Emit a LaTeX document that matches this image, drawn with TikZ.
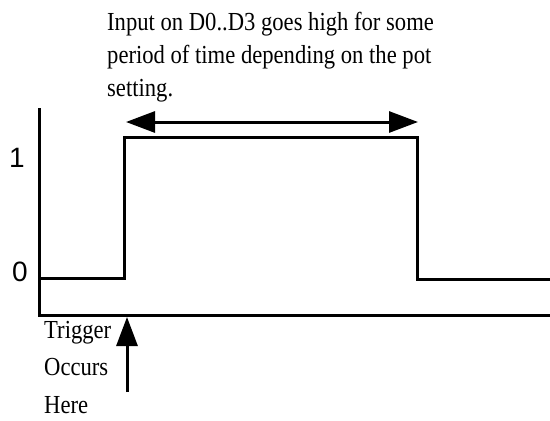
\documentclass[tikz,border=0pt]{standalone}
\usepackage{fontspec}
\setmainfont{Liberation Serif}
\newfontfamily\labfont{Liberation Serif}[FakeStretch=0.87]
\newfontfamily\digfont{Liberation Sans}
\usetikzlibrary{arrows.meta}
\begin{document}
\begin{tikzpicture}[x=1pt,y=-1pt,
  txt/.style={anchor=base west,inner sep=0pt,font=\labfont\fontsize{26}{30}\selectfont},
  dig/.style={anchor=center,inner sep=0pt,font=\digfont\fontsize{28}{30}\selectfont},
  wire/.style={line width=3pt,line join=miter},
  bigtip/.style={-{Triangle[length=29pt,width=21pt]}}]
\useasboundingbox (0,0) rectangle (550,421);
% axes
\coordinate (ytop) at (39,108);
\coordinate (org) at (39,315);
\coordinate (xend) at (550,315);
\draw[wire] (ytop) -- (org) -- (xend);
% signal
\coordinate (s0) at (39,278);
\coordinate (s1) at (124,278);
\coordinate (s2) at (124,137);
\coordinate (s3) at (417,137);
\coordinate (s4) at (417,279);
\coordinate (s5) at (550,279);
\draw[wire] (s0) -- (s1) -- (s2) -- (s3) -- (s4) -- (s5);
% level labels
\node[dig] (one) at (17,158) {1};
\node[dig] (zero) at (20,272) {0};
% period arrow
\coordinate (pl) at (126,122);
\coordinate (pr) at (418,122);
\draw[wire,{Triangle[length=29pt,width=21pt]}-{Triangle[length=29pt,width=21pt]}] (pl) -- (pr);
% description
\node[txt] (d1) at (107,30) {Input on D0..D3 goes high for some};
\node[txt] (d2) at (107,63) {period of time depending on the pot};
\node[txt] (d3) at (107,96) {setting.};
% trigger
\coordinate (tb) at (127,392);
\coordinate (tt) at (127,317);
\draw[wire,bigtip] (tb) -- (tt);
\node[txt] (t1) at (44,338) {Trigger};
\node[txt] (t2) at (44,375) {Occurs};
\node[txt] (t3) at (44,413) {Here};
\end{tikzpicture}
\end{document}
